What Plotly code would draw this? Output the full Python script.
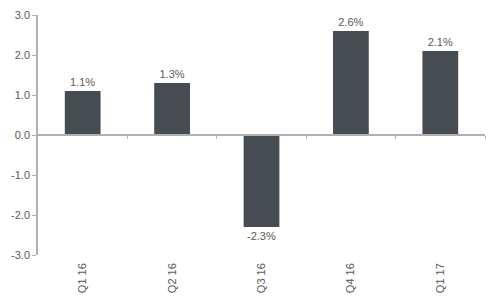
import plotly.graph_objects as go

quarters = ["Q1 16", "Q2 16", "Q3 16", "Q4 16", "Q1 17"]
growth = [1.1, 1.3, -2.3, 2.6, 2.1]
y_ticks = [3.0, 2.0, 1.0, 0.0, -1.0, -2.0, -3.0]

pos = list(range(len(quarters)))
boundaries = [p + 0.5 for p in pos]

fig = go.Figure()
fig.add_trace(go.Bar(
    x=pos, y=growth,
    marker=dict(color="#464c52", line=dict(width=0)),
    text=[f"{v:.1f}%" for v in growth],
    textposition="outside",
    textfont=dict(family="Liberation Sans, Arial", size=11, color="#595959"),
    cliponaxis=False,
    width=0.4,
))
# invisible trace on xaxis2 to carry the zero-line axis with boundary ticks
fig.add_trace(go.Scatter(x=[-0.5, 4.5], y=[0, 0], xaxis="x2", mode="lines",
                         line=dict(width=0), hoverinfo="skip", showlegend=False))

fig.update_layout(
    width=500, height=300,
    margin=dict(l=38, r=15, t=15, b=45),
    paper_bgcolor="white", plot_bgcolor="white",
    showlegend=False,
    font=dict(family="Liberation Sans, Arial", size=11, color="#595959"),
    xaxis=dict(
        range=[-0.5, 4.5], automargin=False,
        tickvals=pos, ticktext=quarters, tickangle=-90,
        showgrid=False, zeroline=False, showline=False, ticks="",
        ticklabelstandoff=5,
        tickfont=dict(size=11, color="#595959"),
    ),
    xaxis2=dict(
        range=[-0.5, 4.5], overlaying="x", anchor="free", position=0.5,
        side="bottom", automargin=False,
        showline=True, linecolor="#b0b0b0", linewidth=1.5,
        tickvals=boundaries, ticks="outside", ticklen=3, tickcolor="#b0b0b0",
        showticklabels=False, showgrid=False, zeroline=False,
    ),
    yaxis=dict(
        range=[-3, 3], tickvals=y_ticks, automargin=False,
        ticktext=[f"{v:.1f}" for v in y_ticks],
        showgrid=False, zeroline=False,
        showline=True, linecolor="#b0b0b0", linewidth=1.5,
        ticks="outside", ticklen=4, tickcolor="#b0b0b0",
        tickfont=dict(size=11, color="#595959"),
    ),
)

fig.write_html("out.html")
